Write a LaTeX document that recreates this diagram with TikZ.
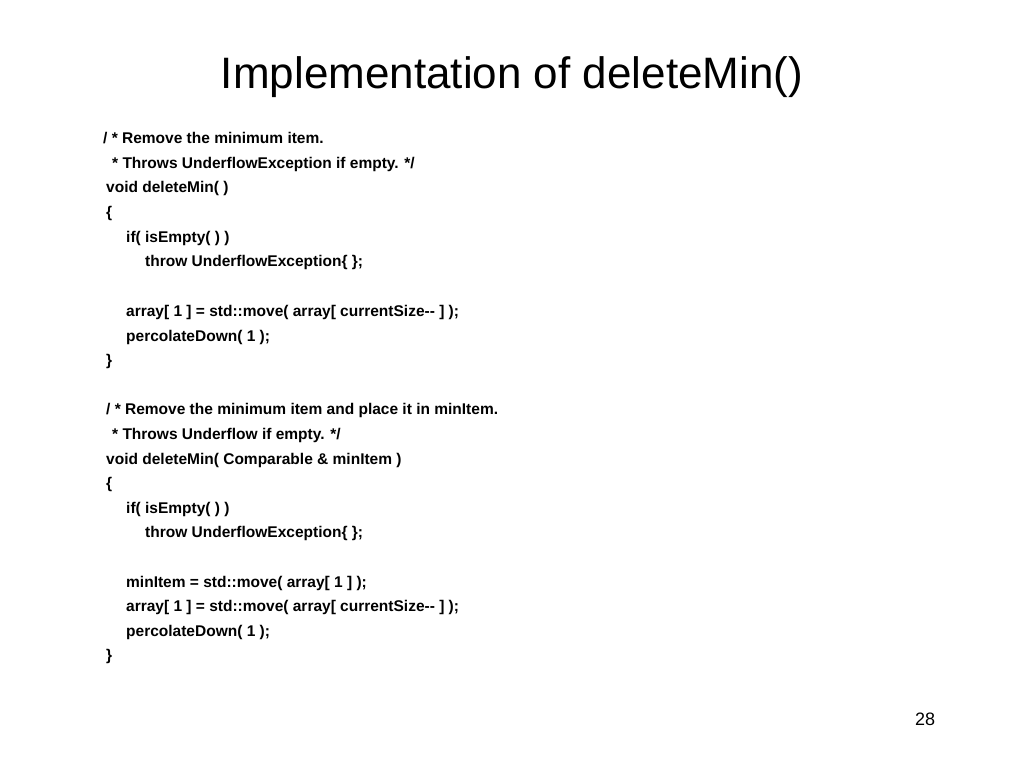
\documentclass[tikz,border=0pt]{standalone}
\usepackage{fontspec}
\setmainfont{Liberation Sans}
\begin{document}
\begin{tikzpicture}[x=1pt,y=-1pt,
  code/.style={anchor=base west,inner sep=0pt,font=\fontsize{15.5}{18}\selectfont\bfseries}]
\useasboundingbox[fill=white] (0,0) rectangle (1024,768);
\node[anchor=base,inner sep=0pt,font=\fontsize{44}{50}\selectfont] (title) at (512,88) {Implementation of deleteMin()};
\node[code] (l1) at (103,143) {/ * Remove the minimum item.};
\node[code] (l2) at (112,168) {* Throws UnderflowException if empty. */};
\node[code] (l3) at (106,192) {void deleteMin( )};
\node[code] (l4) at (106,217) {\{};
\node[code] (l5) at (126,242) {if( isEmpty( ) )};
\node[code] (l6) at (145,266) {throw UnderflowException\{ \};};
\node[code] (l7) at (126,316) {array[ 1 ] = std::move( array[ currentSize-{}- ] );};
\node[code] (l8) at (126,341) {percolateDown( 1 );};
\node[code] (l9) at (106,365) {\}};
\node[code] (m1) at (106,414) {/ * Remove the minimum item and place it in minItem.};
\node[code] (m2) at (112,439) {* Throws Underflow if empty. */};
\node[code] (m3) at (106,464) {void deleteMin( Comparable \& minItem )};
\node[code] (m4) at (106,488) {\{};
\node[code] (m5) at (126,513) {if( isEmpty( ) )};
\node[code] (m6) at (145,537) {throw UnderflowException\{ \};};
\node[code] (m7) at (126,587) {minItem = std::move( array[ 1 ] );};
\node[code] (m8) at (126,611) {array[ 1 ] = std::move( array[ currentSize-{}- ] );};
\node[code] (m9) at (126,636) {percolateDown( 1 );};
\node[code] (m10) at (106,660) {\}};
\node[anchor=base,inner sep=0pt,font=\fontsize{18}{20}\selectfont] (pg) at (925,725) {28};
\end{tikzpicture}
\end{document}
